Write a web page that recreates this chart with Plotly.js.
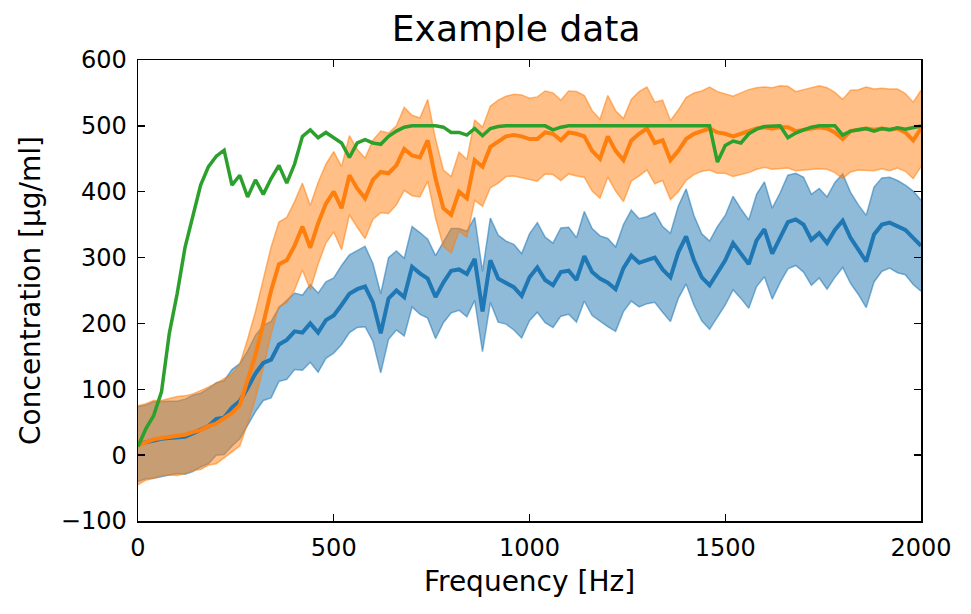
<!DOCTYPE html>
<html>
<head>
<meta charset="utf-8">
<script src="https://cdn.plot.ly/plotly-3.0.1.min.js"></script>
<style>html,body{margin:0;padding:0;background:#fff;}#chart{width:971px;height:614px;}</style>
</head>
<body>
<div id="chart"></div>
<script>
// Frequency grid [Hz]
const freq = [
  0,20,40,60,80,100,120,140,160,180,
  200,220,240,260,280,300,320,340,360,380,
  400,420,440,460,480,500,520,540,560,580,
  600,620,640,660,680,700,720,740,760,780,
  800,820,840,860,880,900,920,940,960,980,
  1000,1020,1040,1060,1080,1100,1120,1140,1160,1180,
  1200,1220,1240,1260,1280,1300,1320,1340,1360,1380,
  1400,1420,1440,1460,1480,1500,1520,1540,1560,1580,
  1600,1620,1640,1660,1680,1700,1720,1740,1760,1780,
  1800,1820,1840,1860,1880,1900,1920,1940,1960,1980,
  2000
];

// Series 1 (blue): mean and half-width of band
const blueMean = [
  17,20,23,25,26,27,28,33,38,44,
  55,57,72,82,102,124,140,145,168,175,
  188,186,200,186,205,212,228,245,252,256,
  232,185,238,250,240,286,276,268,240,262,
  280,282,275,298,218,296,268,262,255,242,
  270,285,266,258,278,280,266,302,278,268,
  262,252,284,303,292,296,300,282,270,308,
  332,296,270,258,278,296,322,306,290,326,
  343,306,330,354,358,350,327,337,322,342,
  356,330,312,294,335,350,353,347,342,330,
  318
];
const blueSpread = [
  57,56,58,57,56,55,57,58,56,57,
  55,56,58,57,56,58,57,58,56,60,
  58,57,59,60,58,57,60,59,58,61,
  59,60,62,60,59,61,62,60,63,61,
  64,62,65,63,61,64,66,63,65,64,
  66,68,65,64,67,66,64,68,66,65,
  67,64,66,69,67,66,68,65,67,70,
  72,68,66,67,69,68,71,68,67,70,
  72,69,68,71,70,72,69,68,70,72,
  71,69,68,70,72,71,69,70,68,71,
  69
];

// Series 2 (orange): mean and half-width of band
const orangeMean = [
  15,20,24,26,28,29,31,35,38,44,
  48,56,64,76,112,152,200,250,290,296,
  318,347,315,352,382,400,375,425,405,390,
  418,430,428,440,465,455,452,478,420,375,
  365,400,390,448,438,468,476,484,486,484,
  480,480,490,488,478,490,488,484,462,450,
  484,462,448,478,488,496,474,478,448,462,
  480,488,492,496,490,488,484,488,492,496,
  498,496,498,498,492,494,496,498,496,490,
  480,492,494,496,494,496,494,496,490,478,
  496
];
const orangeSpread = [
  60,58,59,57,58,60,59,58,60,59,
  61,60,59,62,64,66,68,66,64,65,
  67,66,64,62,60,61,63,60,59,61,
  60,62,61,60,63,61,60,62,60,58,
  58,60,59,61,60,62,63,61,62,63,
  62,64,63,62,61,63,64,62,61,60,
  62,61,63,62,64,63,62,61,60,62,
  63,62,61,63,62,60,61,62,63,62,
  61,62,63,62,60,61,62,63,62,61,
  60,62,61,63,62,61,62,60,59,58,
  58
];

// Series 3 (green): single line
const greenLine = [
  13,40,60,96,185,245,315,360,410,438,
  454,463,410,425,392,418,396,420,440,413,
  442,484,494,482,490,482,474,452,474,479,
  474,472,484,492,498,500,500,500,500,498,
  490,490,486,496,485,496,499,500,500,500,
  500,500,500,494,498,500,500,500,500,500,
  500,500,500,500,500,500,500,500,500,500,
  500,500,500,500,445,470,477,474,488,495,
  499,500,500,482,489,494,498,500,500,500,
  486,492,494,496,492,496,494,497,495,498,
  500
];

const titleText = "Example data";
const xLabel = "Frequency [Hz]";
const yLabel = "Concentration [µg/ml]";
const xTicks = [0, 500, 1000, 1500, 2000];
const yTicks = [-100, 0, 100, 200, 300, 400, 500, 600];

const blueLow = blueMean.map((m, i) => m - blueSpread[i]);
const blueHigh = blueMean.map((m, i) => m + blueSpread[i]);
const orangeLow = orangeMean.map((m, i) => m - orangeSpread[i]);
const orangeHigh = orangeMean.map((m, i) => m + orangeSpread[i]);

const BLUE = "31,119,180", ORANGE = "255,127,14", GREEN = "44,160,44";
const band = (y, rgb, fill) => ({
  x: freq, y: y, type: "scatter", mode: "lines",
  line: {color: "rgba(" + rgb + ",0.55)", width: 1.5},
  fill: fill ? "tonexty" : "none",
  fillcolor: "rgba(" + rgb + ",0.5)",
  hoverinfo: "skip", showlegend: false
});
const line = (y, rgb, w) => ({
  x: freq, y: y, type: "scatter", mode: "lines",
  line: {color: "rgb(" + rgb + ")", width: w},
  showlegend: false
});

const data = [
  band(blueLow, BLUE, false), band(blueHigh, BLUE, true),
  band(orangeLow, ORANGE, false), band(orangeHigh, ORANGE, true),
  line(blueMean, BLUE, 4),
  line(orangeMean, ORANGE, 4),
  line(greenLine, GREEN, 3.5)
];

const FONT = "DejaVu Sans, Verdana, sans-serif";
const axisCommon = {
  showline: true, linecolor: "#000", linewidth: 1.5, mirror: "allticks",
  ticks: "inside", ticklen: 7, tickwidth: 1.3, tickcolor: "#000",
  showgrid: false, zeroline: false, ticklabelstandoff: 5,
  tickfont: {family: FONT, size: 24, color: "#000"}
};

const layout = {
  width: 971, height: 614,
  margin: {l: 138, r: 50, t: 60, b: 93},
  paper_bgcolor: "#fff", plot_bgcolor: "#fff",
  title: {text: titleText, font: {family: FONT, size: 36, color: "#000"},
          x: 0.483, xref: "paper", xanchor: "center", y: 0.953, yref: "container", yanchor: "middle"},
  xaxis: Object.assign({}, axisCommon, {
    range: [0, 2000], tickvals: xTicks, ticktext: xTicks.map(String),
    title: {text: xLabel, font: {family: FONT, size: 28, color: "#000"}, standoff: 10}
  }),
  yaxis: Object.assign({}, axisCommon, {
    range: [-100, 600], tickvals: yTicks,
    title: {text: yLabel, font: {family: FONT, size: 28, color: "#000"}, standoff: 12}
  }),
  showlegend: false
};

Plotly.newPlot("chart", data, layout, {displayModeBar: false, staticPlot: true});
</script>
</body>
</html>
